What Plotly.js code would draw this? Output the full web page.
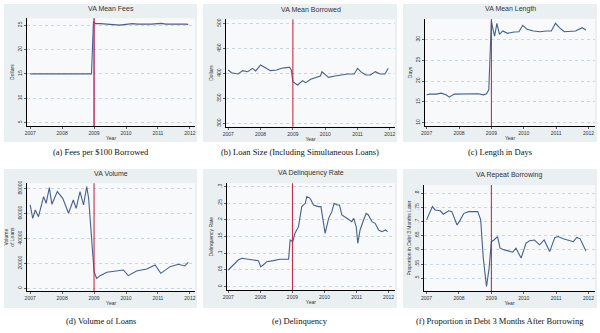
<!DOCTYPE html>
<html>
<head>
<meta charset="utf-8">
<script src="https://cdn.plot.ly/plotly-3.0.1.min.js"></script>
<style>html,body{margin:0;padding:0;background:#fff;}#chart{width:600px;height:333px;}</style>
</head>
<body>
<div id="chart"></div>
<script>
// ---------- data ----------
const reformYear = 2009;
const yearTicks = [2007, 2008, 2009, 2010, 2011, 2012];

// (a) VA Mean Fees
const xFees = [2007.0, 2007.5, 2008.0, 2008.5, 2008.92, 2008.98, 2009.05, 2009.2, 2009.35, 2009.5, 2009.65, 2009.8, 2010.0, 2010.2, 2010.35, 2010.5, 2010.65, 2010.8, 2011.0, 2011.1, 2011.25, 2011.4, 2011.55, 2011.7, 2011.85, 2011.95];
const yFees = [15, 15, 15, 15, 15, 25.7, 25.3, 25.3, 25.2, 25.15, 25.1, 25.0, 25.15, 25.3, 25.2, 25.15, 25.2, 25.2, 25.3, 25.35, 25.2, 25.15, 25.15, 25.2, 25.2, 25.15];
const feesTicks = [5, 10, 15, 20, 25];

// (b) VA Mean Borrowed
const xBorrowed = [2007.0, 2007.1, 2007.3, 2007.45, 2007.6, 2007.75, 2007.85, 2008.0, 2008.15, 2008.3, 2008.5, 2008.65, 2008.8, 2008.9, 2008.95, 2009.0, 2009.1, 2009.15, 2009.3, 2009.4, 2009.55, 2009.7, 2009.85, 2009.9, 2010.0, 2010.1, 2010.3, 2010.5, 2010.7, 2010.9, 2011.0, 2011.1, 2011.25, 2011.4, 2011.55, 2011.7, 2011.85, 2011.95];
const yBorrowed = [406.7, 401.3, 398.7, 405.3, 403.3, 410, 404.7, 416.7, 411.3, 405.3, 406.7, 410, 411.3, 412, 406.7, 383.3, 378.7, 376.7, 385.3, 381.3, 388, 392, 394.7, 403.3, 396.7, 392, 394.7, 396.7, 398.7, 398.7, 410, 403.3, 396.7, 396.7, 403.3, 398.7, 398.7, 410];
const borrowedTicks = [300, 350, 400, 450, 500];

// (c) VA Mean Length
const xLength = [2007.0, 2007.1, 2007.3, 2007.45, 2007.6, 2007.7, 2007.85, 2008.0, 2008.2, 2008.4, 2008.6, 2008.75, 2008.85, 2008.92, 2008.96, 2009.0, 2009.05, 2009.1, 2009.17, 2009.25, 2009.35, 2009.5, 2009.7, 2009.85, 2009.97, 2010.1, 2010.3, 2010.5, 2010.7, 2010.85, 2010.98, 2011.1, 2011.25, 2011.4, 2011.6, 2011.8, 2011.92];
const yLength = [16.69, 16.85, 16.85, 17.10, 16.69, 16.13, 16.85, 16.85, 16.94, 16.85, 16.94, 16.69, 16.94, 17.90, 25.16, 34.44, 32.42, 30.81, 33.87, 31.21, 32.02, 31.45, 31.77, 31.85, 33.39, 32.42, 32.02, 31.85, 32.02, 32.02, 33.87, 32.82, 31.85, 31.85, 32.02, 32.82, 32.26];
const lengthTicks = [10, 15, 20, 25, 30];

// (d) VA Volume
const xVolume = [2007.0, 2007.08, 2007.16, 2007.26, 2007.42, 2007.5, 2007.6, 2007.68, 2007.85, 2008.02, 2008.2, 2008.35, 2008.44, 2008.56, 2008.67, 2008.77, 2008.83, 2008.93, 2009.0, 2009.08, 2009.19, 2009.4, 2009.6, 2009.92, 2010.07, 2010.33, 2010.65, 2010.91, 2011.09, 2011.38, 2011.64, 2011.84, 2011.95];
const yVolume = [66667, 56000, 62667, 57333, 73333, 68000, 80533, 67200, 77333, 72000, 60000, 70667, 64000, 77333, 66667, 81333, 72000, 32000, 13333, 8000, 10133, 12800, 13333, 14667, 10133, 13867, 15467, 18667, 12000, 17333, 19200, 17867, 20800];
const volumeTicks = [0, 20000, 40000, 60000, 80000];
const volumeTickText = ['0', '20000', '40000', '60000', '80000'];

// (e) VA Delinquency Rate
const xDelinq = [2007.0, 2007.16, 2007.31, 2007.42, 2007.57, 2007.78, 2007.94, 2008.01, 2008.09, 2008.2, 2008.41, 2008.61, 2008.77, 2008.88, 2008.93, 2009.01, 2009.08, 2009.19, 2009.29, 2009.4, 2009.45, 2009.55, 2009.66, 2009.81, 2009.89, 2010.02, 2010.13, 2010.23, 2010.3, 2010.39, 2010.47, 2010.54, 2010.7, 2010.85, 2010.91, 2010.99, 2011.04, 2011.11, 2011.22, 2011.3, 2011.37, 2011.48, 2011.58, 2011.69, 2011.79, 2011.9, 2011.97];
const yDelinq = [0.050, 0.065, 0.080, 0.085, 0.082, 0.080, 0.078, 0.060, 0.065, 0.075, 0.078, 0.082, 0.082, 0.082, 0.140, 0.135, 0.160, 0.180, 0.240, 0.250, 0.270, 0.265, 0.245, 0.240, 0.240, 0.160, 0.205, 0.225, 0.250, 0.245, 0.245, 0.215, 0.205, 0.195, 0.205, 0.180, 0.130, 0.170, 0.200, 0.220, 0.215, 0.195, 0.190, 0.170, 0.165, 0.170, 0.165];
const delinqTicks = [0, 0.05, 0.1, 0.15, 0.2, 0.25, 0.3];
const delinqTickText = ['0', '.05', '.1', '.15', '.2', '.25', '.3'];

// (f) VA Repeat Borrowing
const xRepeat = [2007.0, 2007.18, 2007.26, 2007.42, 2007.52, 2007.68, 2007.78, 2007.94, 2008.04, 2008.15, 2008.3, 2008.46, 2008.58, 2008.67, 2008.75, 2008.85, 2008.93, 2009.0, 2009.08, 2009.19, 2009.27, 2009.4, 2009.5, 2009.66, 2009.76, 2009.92, 2010.07, 2010.18, 2010.33, 2010.49, 2010.63, 2010.8, 2010.96, 2011.06, 2011.22, 2011.38, 2011.53, 2011.64, 2011.74, 2011.92];
const yRepeat = [0.706, 0.753, 0.741, 0.738, 0.726, 0.738, 0.735, 0.688, 0.706, 0.729, 0.735, 0.735, 0.735, 0.706, 0.571, 0.471, 0.535, 0.629, 0.635, 0.647, 0.606, 0.600, 0.596, 0.592, 0.606, 0.571, 0.624, 0.632, 0.635, 0.618, 0.635, 0.594, 0.644, 0.647, 0.639, 0.635, 0.629, 0.644, 0.639, 0.596];
const repeatTicks = [0.5, 0.55, 0.6, 0.65, 0.7, 0.75, 0.8];
const repeatTickText = ['.5', '.55', '.6', '.65', '.7', '.75', '.8'];

const panelTitles = ['VA Mean Fees', 'VA Mean Borrowed', 'VA Mean Length', 'VA Volume', 'VA Delinquency Rate', 'VA Repeat Borrowing'];
const yTitles = ['Dollars', 'Dollars', 'Days', 'Volume<br>of Loans', 'Delinquency Rate', 'Proportion in Debt 3 Months Later'];
const captions = ['(a) Fees per $100 Borrowed', '(b) Loan Size (Including Simultaneous Loans)', '(c) Length in Days', '(d) Volume of Loans', '(e) Delinquency', '(f) Proportion in Debt 3 Months After Borrowing'];

// ---------- layout geometry (pixels) ----------
const W = 600, H = 333;
const px = v => v / W, py = v => 1 - v / H;
const boxes = [
  {l: 27, r: 195, t: 18.3, b: 126, xr: [2006.9, 2012.16], yr: [4.3, 26.4]},
  {l: 226, r: 395, t: 19.3, b: 126.7, xr: [2006.93, 2012.16], yr: [293.3, 508]},
  {l: 425, r: 595, t: 19, b: 126, xr: [2006.95, 2012.2], yr: [9.2, 34.9]},
  {l: 27.3, r: 195, t: 183.3, b: 291, xr: [2006.91, 2012.16], yr: [-2133, 84000]},
  {l: 226.7, r: 395, t: 183.3, b: 290, xr: [2006.95, 2012.2], yr: [-0.01, 0.31]},
  {l: 424, r: 595, t: 185, b: 291, xr: [2006.92, 2012.2], yr: [0.455, 0.829]}
];
const regions = [
  {l: 4, r: 197, t: 4, b: 142}, {l: 203, r: 397, t: 4, b: 142}, {l: 403, r: 597, t: 4, b: 142},
  {l: 4, r: 197, t: 169, b: 308}, {l: 203, r: 397, t: 169, b: 308}, {l: 403, r: 597, t: 169, b: 308}
];

const series = [[xFees, yFees], [xBorrowed, yBorrowed], [xLength, yLength], [xVolume, yVolume], [xDelinq, yDelinq], [xRepeat, yRepeat]];
const yTickVals = [feesTicks, borrowedTicks, lengthTicks, volumeTicks, delinqTicks, repeatTicks];
const yTickText = [null, null, null, volumeTickText, delinqTickText, repeatTickText];

const lineColor = '#46608f';
const reformColors = ['#b8336a', '#c41a3c', '#c41a3c', '#c41a3c', '#c41a3c', '#c41a3c'];
const font = 'Liberation Sans, Arial, sans-serif';

const traces = [];
const layout = {
  width: W, height: H,
  margin: {l: 0, r: 0, t: 0, b: 0},
  paper_bgcolor: '#ffffff',
  plot_bgcolor: 'rgba(0,0,0,0)',
  showlegend: false,
  font: {family: font, color: '#333'},
  shapes: [],
  annotations: []
};

regions.forEach(g => {
  layout.shapes.push({type: 'rect', xref: 'paper', yref: 'paper', layer: 'below',
    x0: px(g.l), x1: px(g.r), y0: py(g.b), y1: py(g.t), line: {width: 0}, fillcolor: '#eaf0f2'});
});

boxes.forEach((b, i) => {
  const n = i + 1;
  const xa = 'x' + (n === 1 ? '' : n), ya = 'y' + (n === 1 ? '' : n);
  const xkey = 'xaxis' + (n === 1 ? '' : n), ykey = 'yaxis' + (n === 1 ? '' : n);
  layout.shapes.push({type: 'rect', xref: 'paper', yref: 'paper', layer: 'below',
    x0: px(b.l), x1: px(b.r), y0: py(b.b), y1: py(b.t), line: {width: 0}, fillcolor: '#f7f9fa'});
  traces.push({x: series[i][0], y: series[i][1], xaxis: xa, yaxis: ya, type: 'scatter', mode: 'lines',
    line: {color: lineColor, width: 1.1}, hoverinfo: 'skip'});
  layout[xkey] = {
    domain: [px(b.l), px(b.r)], range: b.xr, anchor: ya,
    tickvals: yearTicks, ticks: 'outside', ticklen: 2, tickwidth: 0.6, tickcolor: '#000',
    showline: true, linecolor: '#000', linewidth: 1, showgrid: false, zeroline: false,
    tickfont: {size: 5, color: '#333'},
    title: {text: 'Year', font: {size: 5, color: '#333'}, standoff: 1}
  };
  const ya_obj = {
    domain: [py(b.b), py(b.t)], range: b.yr, anchor: xa,
    tickvals: yTickVals[i], ticks: 'outside', ticklen: 2, tickwidth: 0.6, tickcolor: '#000',
    tickangle: -90, showline: true, linecolor: '#000', linewidth: 1,
    showgrid: true, gridcolor: '#b9d0d6', griddash: 'dot', gridwidth: 0.8, zeroline: false,
    tickfont: {size: 5, color: '#333'},
    title: {text: yTitles[i], font: {size: 5, color: '#333'}, standoff: 2}
  };
  if (yTickText[i]) ya_obj.ticktext = yTickText[i];
  layout[ykey] = ya_obj;
  layout.shapes.push({type: 'line', xref: xa, yref: ya + ' domain', x0: reformYear, x1: reformYear, y0: 0, y1: 1,
    line: {color: reformColors[i], width: i === 0 ? 1.5 : 1}});
  layout.annotations.push({xref: 'paper', yref: 'paper', x: px((b.l + b.r) / 2), y: py(b.t - 4),
    xanchor: 'center', yanchor: 'bottom', showarrow: false, text: panelTitles[i],
    font: {size: 7, color: '#333', family: font}});
  const g = regions[i];
  layout.annotations.push({xref: 'paper', yref: 'paper', x: px((g.l + g.r) / 2), y: py(i < 3 ? 152 : 321),
    xanchor: 'center', yanchor: 'middle', showarrow: false, text: captions[i],
    font: {size: 8.5, color: '#111', family: 'Liberation Serif, Times New Roman, serif'}});
});

Plotly.newPlot('chart', traces, layout, {displayModeBar: false, staticPlot: true});
</script>
</body>
</html>
